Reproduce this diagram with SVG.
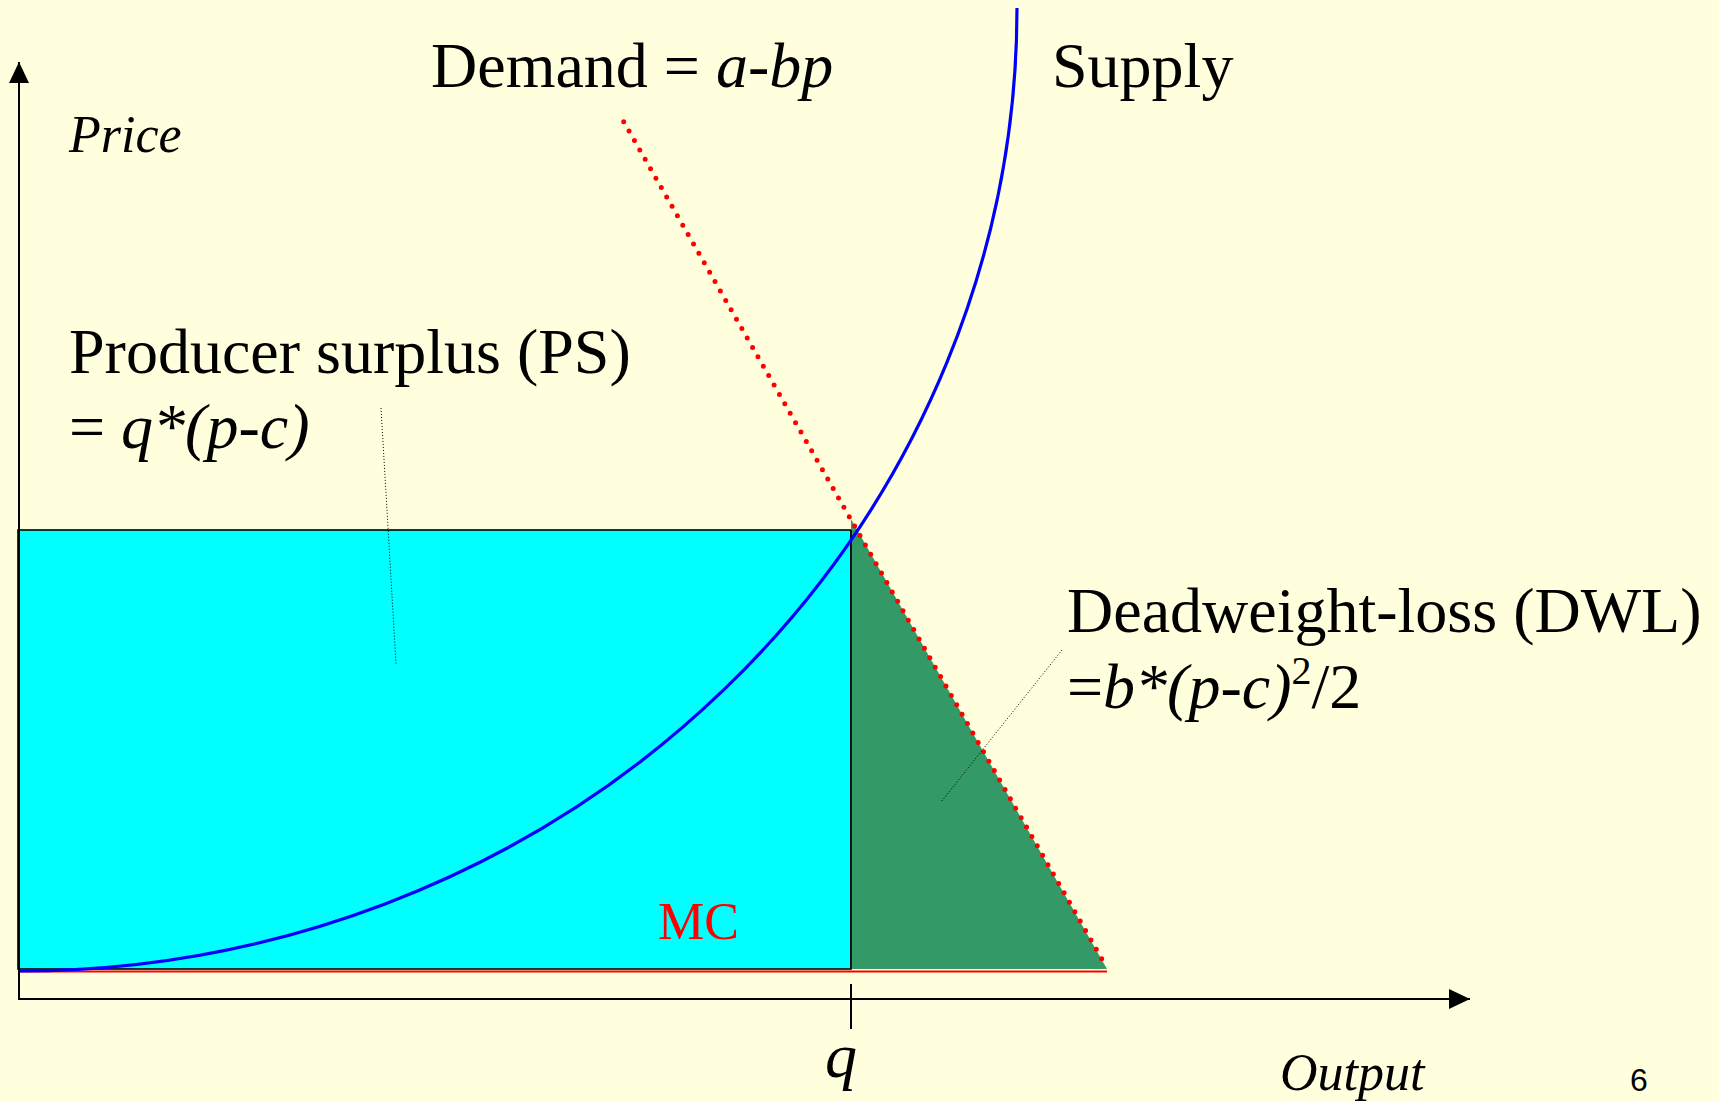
<svg xmlns="http://www.w3.org/2000/svg" width="1719" height="1101" viewBox="0 0 1719 1101">
<style>
.t{font-family:"Liberation Serif","Times New Roman",serif;fill:#000}
.i{font-style:italic}
.lead{stroke:#000;stroke-width:1;stroke-dasharray:1 2;fill:none}
.axis{stroke:#000;stroke-width:2;fill:none}
</style>
<defs>
<marker id="ah" viewBox="0 0 21 20" refX="21" refY="10" markerWidth="21" markerHeight="20" markerUnits="userSpaceOnUse" orient="auto">
<path d="M0 0 L21 10 L0 20 Z" fill="#000"/>
</marker>
</defs>
<rect width="1719" height="1101" fill="#FFFFDD"/>
<g id="ps-area">
<rect x="18" y="530" width="833" height="439" fill="#00FFFF" stroke="#000" stroke-width="1.6"/>
</g>
<g id="dwl-area">
<polygon points="851,519 851,969 1107,969" fill="#339966"/>
<line x1="851" y1="530" x2="851" y2="969" stroke="#000" stroke-width="1.6"/>
</g>
<g id="connectors">
<line id="mc-line" x1="19" y1="971.5" x2="1107" y2="971.5" stroke="#FF0000" stroke-width="2"/>
<path id="supply-curve" d="M19 971 A998 963 0 0 0 1017 8" fill="none" stroke="#0000FF" stroke-width="3.2"/>
<line id="demand-line" x1="623.7" y1="121.7" x2="1107" y2="968" stroke="#FF0000" stroke-width="5" stroke-linecap="round" stroke-dasharray="0 10.83"/>
<line class="lead" x1="381" y1="408" x2="396" y2="664"/>
<line class="lead" x1="1062" y1="650" x2="941" y2="802"/>
<line class="axis" x1="19" y1="999" x2="19" y2="62" marker-end="url(#ah)"/>
<line class="axis" x1="18" y1="999" x2="1470" y2="999" marker-end="url(#ah)"/>
<line class="axis" x1="851" y1="984" x2="851" y2="1029"/>
</g>
<g id="label-demand"><text class="t" x="431" y="87" font-size="64">Demand = <tspan class="i">a-bp</tspan></text></g>
<g id="label-supply"><text class="t" x="1052" y="87" font-size="64">Supply</text></g>
<g id="label-price"><text class="t i" x="69" y="152" font-size="52">Price</text></g>
<g id="label-ps"><text class="t" x="69" y="373" font-size="64">Producer surplus (PS)</text>
<text class="t" x="69" y="448" font-size="64">= <tspan class="i">q*(p-c)</tspan></text></g>
<g id="label-dwl"><text class="t" x="1067" y="632" font-size="64">Deadweight-loss (DWL)</text>
<text class="t" x="1067" y="708" font-size="64">=<tspan class="i">b*(p-c)</tspan><tspan font-size="40" dy="-24">2</tspan><tspan dy="24">/2</tspan></text></g>
<g id="label-mc"><text class="t" x="658" y="939" font-size="52" style="fill:#FF0000">MC</text></g>
<g id="label-q"><text class="t i" x="825" y="1077" font-size="64">q</text></g>
<g id="label-output"><text class="t i" x="1280" y="1090" font-size="52">Output</text></g>
<g id="label-page"><text x="1630" y="1091" font-size="32" font-family="Liberation Sans, Arial, sans-serif" fill="#000">6</text></g>
</svg>
